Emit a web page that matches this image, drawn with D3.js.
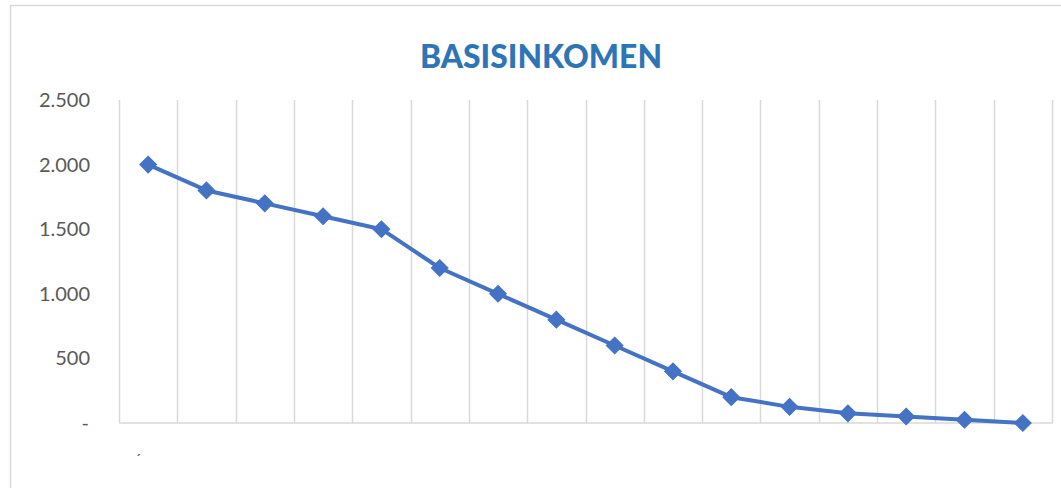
<!DOCTYPE html>
<html>
<head>
<meta charset="utf-8">
<script src="https://cdn.jsdelivr.net/npm/d3@7"></script>
<style>
  html, body { margin: 0; padding: 0; background: #fff; }
  svg { display: block; }
</style>
</head>
<body>
<div id="chart"></div>
<script>
// data
const categories = ["1", "2", "3", "4", "5", "6", "7", "8", "9", "10", "11", "12", "13", "14", "15", "16"];
const values = [2000, 1800, 1700, 1600, 1500, 1200, 1000, 800, 600, 400, 200, 125, 75, 50, 25, 0];
const yTicks = [0, 500, 1000, 1500, 2000, 2500];
const title = "BASISINKOMEN";
const firstLabel = "´";

const width = 1061;
const height = 488;
const margin = { top: 100, right: 9, bottom: 65, left: 119 };

const svg = d3
  .select("#chart")
  .append("svg")
  .attr("width", width)
  .attr("height", height);

// chart border (runs off the right / bottom edge)
svg
  .append("rect")
  .attr("x", 10.5)
  .attr("y", 5.5)
  .attr("width", width + 20)
  .attr("height", height + 20)
  .attr("fill", "#fff")
  .attr("stroke", "#d9d9d9")
  .attr("stroke-width", 1.5);

// title
svg
  .append("text")
  .attr("x", 541)
  .attr("y", 68)
  .attr("text-anchor", "middle")
  .attr("font-family", "Lato, 'Open Sans', sans-serif")
  .attr("font-weight", "900")
  .attr("font-size", 33)
  .attr("fill", "#2e75b6")
  .attr("textLength", 242)
  .attr("lengthAdjust", "spacingAndGlyphs")
  .text(title);

const x = d3
  .scaleBand()
  .domain(categories)
  .range([margin.left, width - margin.right]);

const y = d3
  .scaleLinear()
  .domain([0, 2500])
  .range([height - margin.bottom, margin.top]);

// vertical category gridlines
const gridX = [...categories.map((c) => x(c)), x(categories[categories.length - 1]) + x.bandwidth()];
svg
  .append("g")
  .selectAll("line")
  .data(gridX)
  .join("line")
  .attr("x1", (d) => Math.round(d) + 0.5)
  .attr("x2", (d) => Math.round(d) + 0.5)
  .attr("y1", y(2500))
  .attr("y2", y(0))
  .attr("stroke", "#d9d9d9")
  .attr("stroke-width", 1.5);

// bottom axis line
svg
  .append("line")
  .attr("x1", x.range()[0])
  .attr("x2", x.range()[1] + 1)
  .attr("y1", y(0))
  .attr("y2", y(0))
  .attr("stroke", "#d9d9d9")
  .attr("stroke-width", 1.5);

// y axis labels
const fmt = (v) => (v === 0 ? "-" : d3.format(",")(v).replace(/,/g, "."));
const yAxis = svg
  .append("g")
  .attr("transform", `translate(${margin.left - 29},0)`)
  .call(d3.axisLeft(y).tickValues(yTicks).tickFormat(fmt).tickSize(0).tickPadding(0));
yAxis.select(".domain").remove();
yAxis
  .selectAll("text")
  .attr("font-family", "Lato, 'Open Sans', sans-serif")
  .attr("font-size", 20)
  .attr("fill", "#595959")
  .attr("dx", (d) => (d === 0 ? -1 : 0));

// first category label (small mark below axis)
svg
  .append("text")
  .attr("x", x(categories[0]) + x.bandwidth() / 2 - 10)
  .attr("y", y(0) + 42)
  .attr("text-anchor", "middle")
  .attr("font-family", "Lato, 'Open Sans', sans-serif")
  .attr("font-size", 16)
  .attr("fill", "#595959")
  .text(firstLabel);

// line
const line = d3
  .line()
  .x((d, i) => x(categories[i]) + x.bandwidth() / 2)
  .y((d) => y(d));

svg
  .append("path")
  .datum(values)
  .attr("d", line)
  .attr("fill", "none")
  .attr("stroke", "#4472c4")
  .attr("stroke-width", 4)
  .attr("stroke-linejoin", "round");

// diamond markers
const diamond = d3.symbol().type(d3.symbolSquare).size(140);
svg
  .append("g")
  .selectAll("path")
  .data(values)
  .join("path")
  .attr("d", diamond)
  .attr(
    "transform",
    (d, i) => `translate(${x(categories[i]) + x.bandwidth() / 2},${y(d)}) rotate(45)`
  )
  .attr("fill", "#4472c4")
  .attr("stroke", "#4472c4")
  .attr("stroke-width", 1);
</script>
</body>
</html>
